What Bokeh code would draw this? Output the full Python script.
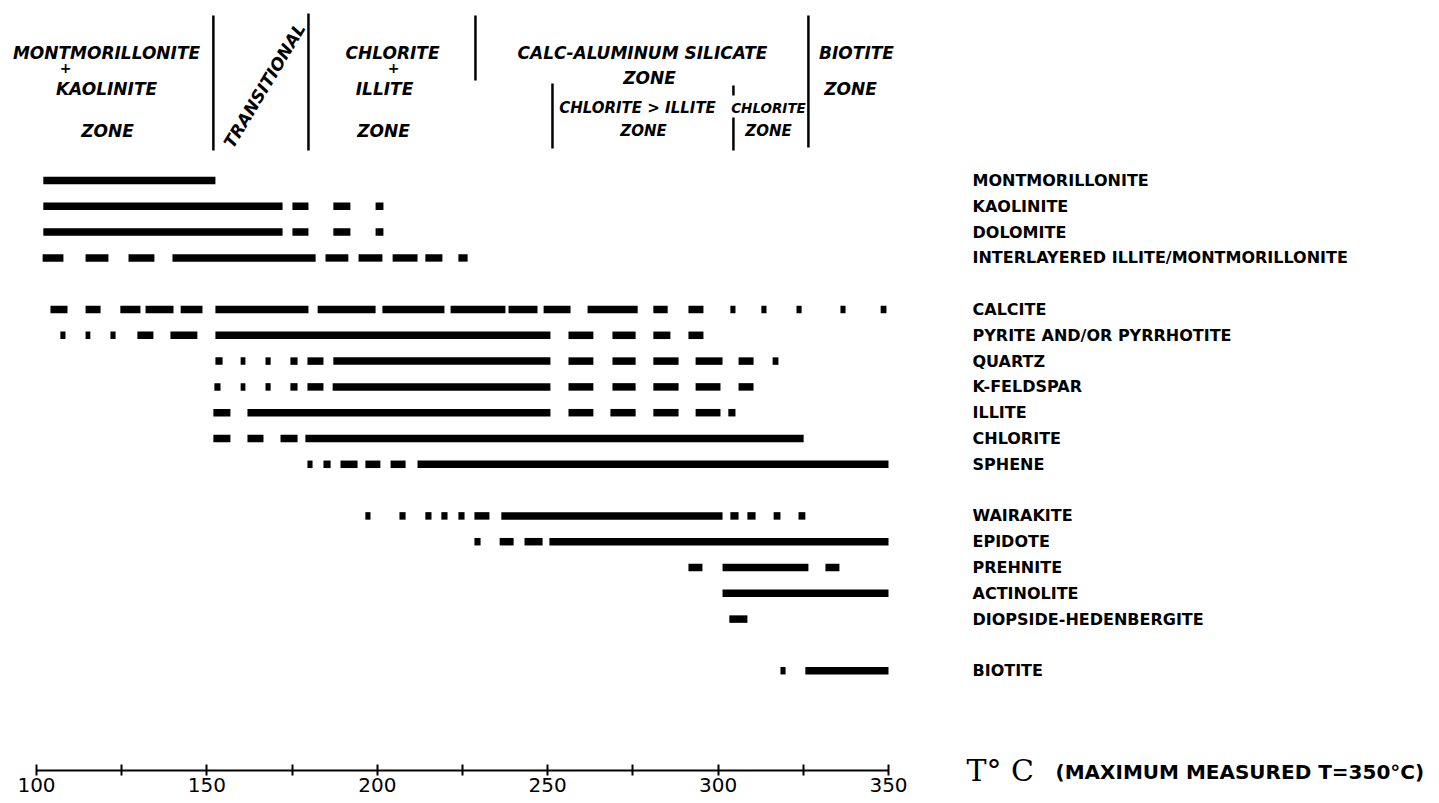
from bokeh.plotting import figure
from bokeh.models import ColumnDataSource, Range1d, FixedTicker, LinearAxis
from bokeh.core.properties import value
from bokeh.embed import file_html
from bokeh.resources import INLINE

# ---------------- data (temperature ranges in deg C) ----------------
montmorillonite = [(102, 152.5)]
kaolinite = [(102, 172.2), (175.1, 179.8), (187.1, 192.1), (199.5, 201.8)]
dolomite = [(102, 172.2), (175.1, 179.8), (187.1, 192.1), (199.5, 201.8)]
interlayered = [(101.8, 107.9), (114.4, 121.1), (127, 134.6), (139.9, 181.9),
                (184.8, 191.5), (194.5, 201.5), (204.5, 211.8), (214.1, 219.1),
                (223.8, 226.5)]
calcite = [(104.1, 109.1), (114.4, 118.8), (124.6, 130.5), (132, 140.2),
           (142.3, 148.7), (152.5, 179.8), (182.5, 199.5), (201.5, 219.7),
           (221.5, 237.6), (238.5, 247), (248.8, 256.7), (261.7, 276.4),
           (281, 285.2), (291.3, 295.7), (303.6, 305.1), (312.7, 314.2),
           (323, 324.5), (335.9, 337.4), (347.7, 349.4)]
pyrite = [(107, 108.5), (114.4, 115.8), (121.7, 123.2), (129.6, 134.3),
          (139.3, 147.2), (152.5, 250.8), (256.1, 263.4), (269, 275.8),
          (281, 286), (291.3, 295.7)]
quartz = [(152.5, 154.6), (159.9, 161.3), (167.2, 168.7), (174.5, 176.6),
          (179.5, 184.2), (187.1, 250.8), (256.1, 263.4), (269, 275.8),
          (281, 288.4), (293.4, 301.3), (306, 310.4), (316, 317.7)]
k_feldspar = [(152.2, 154), (159.9, 161.3), (167.2, 168.7), (174.5, 176.6),
              (179.5, 184.2), (186.9, 250.8), (256.1, 263.4), (269, 275.8),
              (281, 288.4), (293.4, 300.7), (306, 310.4)]
illite = [(151.9, 156.9), (161.9, 250.8), (256.1, 263.4), (268.4, 275.8),
          (281, 288.4), (293.4, 300.7), (303, 305.1)]
chlorite = [(151.9, 156.9), (161.9, 166.6), (171.6, 176.6), (178.9, 325.1)]
sphene = [(179.5, 181), (184.2, 186.3), (189.2, 194.2), (196.5, 200.9),
          (203.9, 208.3), (211.8, 350)]
wairakite = [(196.5, 198), (206.5, 208.3), (214.1, 215.9), (218.8, 220.6),
             (223.8, 225.6), (228.5, 232.9), (236.4, 301.3), (303.6, 306),
             (308.6, 311), (316.3, 318.3), (323.6, 325.6)]
epidote = [(228.5, 230.3), (235.9, 240), (243.2, 248.5), (250.5, 350)]
prehnite = [(291.3, 295.4), (301.3, 326.5), (331.5, 335.6)]
actinolite = [(301.3, 350)]
diopside = [(303.3, 308.6)]
biotite = [(318.3, 319.8), (325.6, 350)]

group_clays = [("MONTMORILLONITE", montmorillonite), ("KAOLINITE", kaolinite),
               ("DOLOMITE", dolomite),
               ("INTERLAYERED ILLITE/MONTMORILLONITE", interlayered)]
group_common = [("CALCITE", calcite), ("PYRITE AND/OR PYRRHOTITE", pyrite),
                ("QUARTZ", quartz), ("K-FELDSPAR", k_feldspar),
                ("ILLITE", illite), ("CHLORITE", chlorite), ("SPHENE", sphene)]
group_calc = [("WAIRAKITE", wairakite), ("EPIDOTE", epidote),
              ("PREHNITE", prehnite), ("ACTINOLITE", actinolite),
              ("DIOPSIDE-HEDENBERGITE", diopside)]
group_bio = [("BIOTITE", biotite)]
groups = [group_clays, group_common, group_calc, group_bio]

zone_boundaries = [151.9, 179.8, 228.8, 251.4, 304.5, 326.5]
temp_ticks = [100, 125, 150, 175, 200, 225, 250, 275, 300, 325, 350]
tick_labels = ["100", "", "150", "", "200", "", "250", "", "300", "", "350"]

# ---------------- layout helpers ----------------
PX_PER_DEG = 3.408
def px_to_T(px):
    return 100 + (px - 36) / PX_PER_DEG

W, H = 1431, 800
ROW0, ROW_STEP = 180, 25.8
AXIS_Y = 770

x0, x1, ys = [], [], []
lab_x, lab_y, lab_t = [], [], []
idx = 0
for g in groups:
    for name, ranges in g:
        y = ROW0 + idx * ROW_STEP
        for a, b in ranges:
            x0.append(a); x1.append(b); ys.append(y)
        lab_x.append(px_to_T(972)); lab_y.append(y); lab_t.append(name)
        idx += 1
    idx += 1

p = figure(width=W, height=H, min_border=0,
           x_range=Range1d(px_to_T(0), px_to_T(W)),
           y_range=Range1d(H, 0),
           output_backend="svg", toolbar_location=None,
           x_axis_location=None, y_axis_location=None,
           outline_line_color=None,
           background_fill_color="white", border_fill_color="white")
p.grid.visible = False

seg = ColumnDataSource(dict(x0=x0, x1=x1, y=ys))
p.segment(x0="x0", y0="y", x1="x1", y1="y", source=seg, line_width=7.5,
          line_color="black", line_cap="butt")

lab = ColumnDataSource(dict(x=lab_x, y=lab_y, t=lab_t))
p.text(x="x", y="y", text="t", source=lab, text_font=value("DejaVu Sans"),
       text_font_style="bold", text_font_size="16px", text_color="black",
       text_align="left", text_baseline="middle")

# zone boundary lines (header)
zl_x, zl_y0, zl_y1 = [], [], []
extents = [[(15, 150)], [(13, 150)], [(15, 80)], [(83, 148)],
           [(85, 95), (117, 150)], [(15, 147)]]
for t, ex in zip(zone_boundaries, extents):
    for a, b in ex:
        zl_x.append(t); zl_y0.append(a); zl_y1.append(b)
p.segment(x0=zl_x, y0=zl_y0, x1=zl_x, y1=zl_y1, line_width=2.5,
          line_color="black", line_cap="butt")

# header texts
hdr = [("MONTMORILLONITE", 106, 52, 17), ("+", 65, 67, 14),
       ("KAOLINITE", 106, 88, 17), ("ZONE", 107, 130, 17),
       ("CHLORITE", 392, 52, 17), ("+", 393, 67, 14),
       ("ILLITE", 384, 88, 17), ("ZONE", 383, 130, 17),
       ("CALC-ALUMINUM SILICATE", 642, 52, 17), ("ZONE", 649, 77, 17),
       ("CHLORITE > ILLITE", 637, 107, 15), ("ZONE", 643, 130, 15),
       ("CHLORITE", 768, 107, 13.5), ("ZONE", 768, 130, 15),
       ("BIOTITE", 856, 52, 17), ("ZONE", 850, 88, 17)]
for t, hx, hy, fs in hdr:
    p.text(x=[px_to_T(hx)], y=[hy], text=[t], text_font=value("DejaVu Sans"),
           text_font_style="bold italic", text_font_size=f"{fs}px",
           text_align="center", text_baseline="middle", text_color="black")
p.text(x=[px_to_T(264)], y=[85], text=["TRANSITIONAL"], angle=1.03,
       text_font=value("DejaVu Sans"), text_font_style="bold italic",
       text_font_size="17px", text_align="center", text_baseline="middle",
       text_color="black")

# x axis (drawn at a fixed location inside the frame)
ax = LinearAxis(fixed_location=AXIS_Y, bounds=(100, 350),
                ticker=FixedTicker(ticks=temp_ticks))
ax.major_label_overrides = {t: l for t, l in zip(temp_ticks, tick_labels)}
ax.axis_line_width = 2
ax.axis_line_color = "black"
ax.major_tick_line_width = 2
ax.major_tick_line_color = "black"
ax.major_tick_in = 6
ax.major_tick_out = 5
ax.minor_tick_line_color = None
ax.major_label_standoff = 2
ax.major_label_text_font = "DejaVu Sans"
ax.major_label_text_font_size = "20px"
ax.major_label_text_color = "black"
p.add_layout(ax, "below")

# caption
p.text(x=[px_to_T(966)], y=[AXIS_Y], text=["T° C"],
       text_font=value("DejaVu Serif"), text_font_size="30px",
       text_baseline="middle", text_align="left", text_color="black")
p.text(x=[px_to_T(1055)], y=[AXIS_Y + 1], text=["(MAXIMUM MEASURED T=350°C)"],
       text_font=value("DejaVu Sans"), text_font_style="bold",
       text_font_size="20px", text_baseline="middle", text_align="left",
       text_color="black")

open("out.html", "w").write(file_html(p, INLINE))
